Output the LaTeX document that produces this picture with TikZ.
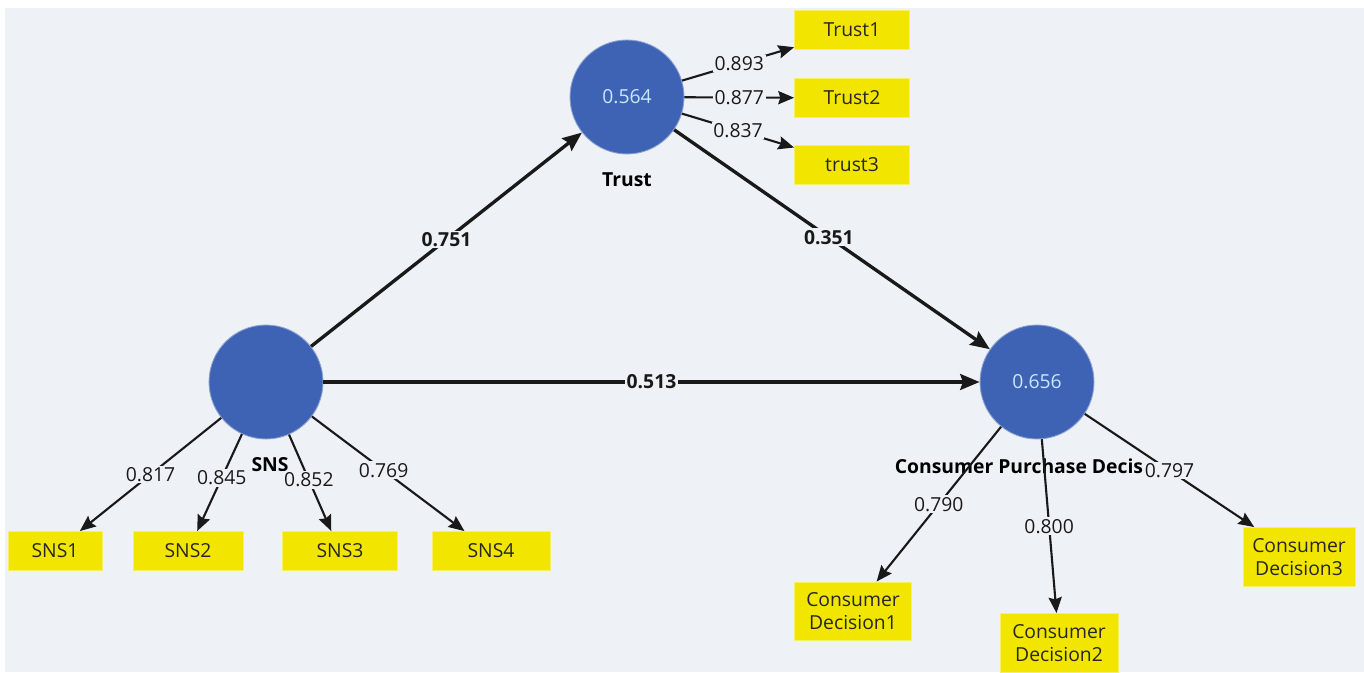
\documentclass[tikz,border=0pt]{standalone}
\usepackage{fontspec}
\setmainfont{Open Sans}
\usetikzlibrary{arrows.meta}
\definecolor{bgc}{RGB}{238,242,246}
\definecolor{lvblue}{RGB}{62,98,180}
\definecolor{lvtext}{RGB}{200,232,252}
\definecolor{indyellow}{RGB}{242,230,0}
\begin{document}
\begin{tikzpicture}[x=0.02cm,y=-0.02cm,font=\fontsize{11}{13}\selectfont, line join=round,
	lv/.style={circle,fill=lvblue,draw=lvblue!60!white,line width=0.5pt,minimum size=2.28cm,inner sep=0,text=lvtext},
	ind/.style={rectangle,fill=indyellow,draw=indyellow!60!white,line width=0.5pt,minimum width=2.3cm,minimum height=0.78cm,inner sep=1pt,align=center,text=black!85},
	inner/.style={-{Stealth[length=11pt,width=9pt,inset=1.5pt]},line width=1.9pt,black!90},
	outer/.style={-{Stealth[length=9pt,width=7.5pt,inset=1.2pt]},line width=1.2pt,black!90},
	wt/.style={fill=bgc,inner sep=1pt,text=black!90},
	bf/.style={font=\fontsize{11}{13}\selectfont\bfseries}]
	\fill[white](0,0) rectangle (1364,672);
	\fill[bgc](5,8) rectangle (1364,672);
	\useasboundingbox (0,0) rectangle (1364,672);
	\path(627,97)node[lv](trust){0.564}
	(266,382)node[lv](sns){}
	(1037,382)node[lv](cpd){0.656}
	;
	\path(trust)++(0,83)node[bf](ltrust){Trust}
	(sns)++(4,83)node[bf](lsns){SNS}
	(cpd)++(-18,84)node[bf](lcpd){Consumer Purchase Decis};
	\path
	(trust)++(225,-67)node[ind](t1){Trust1}
	(trust)++(225,1)node[ind](t2){Trust2}
	(trust)++(225,68)node[ind](t3){trust3};
	\path
	(sns)++(-211,169)node[ind,minimum width=1.88cm](s1){SNS1}
	(sns)++(-78,169)node[ind,minimum width=2.2cm](s2){SNS2}
	(sns)++(74,169)node[ind](s3){SNS3}
	(sns)++(225,169)node[ind,minimum width=2.36cm](s4){SNS4};
	\path
	(cpd)++(-184,229)node[ind,minimum width=2.34cm,minimum height=1.16cm](c1){Consumer\\Decision1}
	(cpd)++(22,261)node[ind,minimum width=2.36cm,minimum height=1.18cm](c2){Consumer\\Decision2}
	(cpd)++(262,175)node[ind,minimum width=2.24cm,minimum height=1.18cm](c3){Consumer\\Decision3};
	\draw[inner](sns)--(trust)node[pos=0.5,wt,bf]{0.751};
	\draw[inner](trust)--(cpd)node[pos=0.49,wt,bf]{0.351};
	\draw[inner](sns)--(cpd)node[pos=0.5,wt,bf]{0.513};
	\draw[outer](trust)--(t1)node[pos=0.51,wt]{0.893};
	\draw[outer](trust)--(t2)node[pos=0.5,wt]{0.877};
	\draw[outer](trust)--(t3)node[pos=0.5,wt]{0.837};
	\draw[outer](sns)--(s1)node[pos=0.5,wt]{0.817};
	\draw[outer](sns)--(s2)node[pos=0.45,wt]{0.845};
	\draw[outer](sns)--(s3)node[pos=0.47,wt]{0.852};
	\draw[outer](sns)--(s4)node[pos=0.47,wt]{0.769};
	\draw[outer](cpd)--(c1)node[pos=0.5,wt]{0.790};
	\draw[outer](cpd)--(c2)node[pos=0.5,wt]{0.800};
	\draw[outer](cpd)--(c3)node[pos=0.5,wt]{0.797};
\end{tikzpicture}
\end{document}
